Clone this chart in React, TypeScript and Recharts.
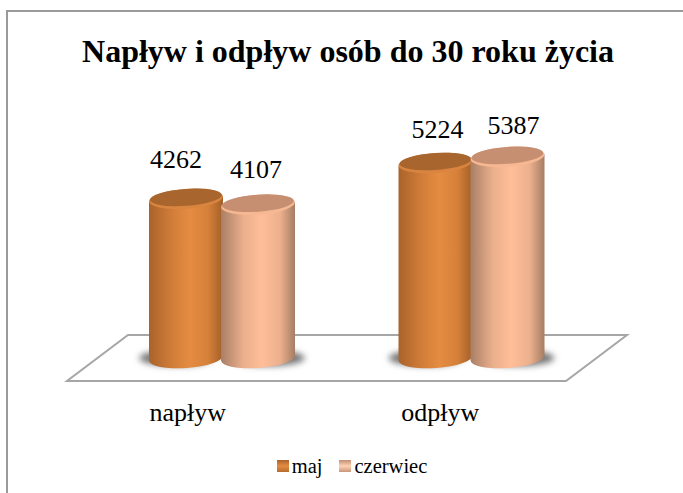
import { Bar, BarChart, LabelList, Legend, XAxis, YAxis } from "recharts";

const categories = ["napływ", "odpływ"];
const maj = [4262, 5224];
const czerwiec = [4107, 5387];

const title = "Napływ i odpływ osób do 30 roku życia";
const font = "'Liberation Serif', 'Times New Roman', serif";

// hand-placed labels in the original, so they sit off-centre
const majNudge = [
  { dx: -10, dy: -6 },
  { dx: 2, dy: 0 },
];
const czerwiecNudge = [
  { dx: -2, dy: -2 },
  { dx: 6, dy: 2 },
];
const tickNudge = [-34, -31];

const chartData = categories.map((name, i) => ({
  name,
  maj: maj[i],
  czerwiec: czerwiec[i],
}));

const RY = 10;
const TILT = -4;

function Cylinder(props: any) {
  const { x, y, width, height, gradient, topFill, rimFill, shadowShift } = props;
  const cx = x + width / 2;
  const rx = width / 2;
  const base = y + height;
  const lift = rx * Math.sin((-TILT * Math.PI) / 180);
  const tilt = `rotate(${TILT} ${cx} ${y})`;
  return (
    <g>
      <ellipse
        cx={cx + shadowShift}
        cy={base}
        rx={rx}
        ry={8}
        fill="#777"
        filter="url(#softShadow)"
      />
      <path
        d={`M${x},${y + lift} L${x},${base + lift} A${rx},${RY} ${TILT} 0 0 ${x + width},${base - lift} L${x + width},${y - lift} Z`}
        fill={`url(#${gradient})`}
      />
      <ellipse cx={cx} cy={y} rx={rx} ry={RY} fill={rimFill} transform={tilt} />
      <ellipse cx={cx} cy={y - 1.5} rx={rx - 1} ry={RY - 1.5} fill={topFill} transform={tilt} />
    </g>
  );
}

function nudgedLabel(nudge: { dx: number; dy: number }[]) {
  return function NudgedLabel(props: any) {
    const { x, y, width, value, index } = props;
    return (
      <text
        x={x + width / 2 + nudge[index].dx}
        y={y - 25 + nudge[index].dy}
        textAnchor="middle"
        fontFamily={font}
        fontSize={26}
        fill="#000"
      >
        {value}
      </text>
    );
  };
}

function CategoryTick(props: any) {
  const { x, y, payload, index } = props;
  return (
    <text x={x + tickNudge[index]} y={y} textAnchor="middle" fontFamily={font} fontSize={26} fill="#000">
      {payload.value}
    </text>
  );
}

function LegendSwatches() {
  const items = [
    { label: "maj", fill: "url(#swatchMaj)" },
    { label: "czerwiec", fill: "url(#swatchCzerwiec)" },
  ];
  return (
    <div style={{ display: "flex", justifyContent: "center", gap: 17, fontFamily: font, fontSize: 20.5, lineHeight: "24px", color: "#000" }}>
      {items.map((item) => (
        <span key={item.label} style={{ display: "flex", alignItems: "center" }}>
          <svg width={12} height={12} style={{ marginRight: 3 }}>
            <rect x={0} y={0} width={12} height={12} fill={item.fill} />
          </svg>
          {item.label}
        </span>
      ))}
    </div>
  );
}

export default function App() {
  return (
    <div style={{ position: "absolute", left: 0, top: 0, width: 683, height: 493, overflow: "hidden", background: "#fff" }}>
      <div
        style={{
          position: "absolute",
          left: 6,
          top: 10,
          width: 700,
          height: 500,
          border: "2px solid #9a9a9a",
          boxSizing: "border-box",
        }}
      />
      <div
        style={{
          position: "absolute",
          left: 0,
          top: 32,
          width: 696,
          textAlign: "center",
          fontFamily: font,
          fontWeight: 700,
          fontSize: 32,
          lineHeight: "38px",
          color: "#000",
          whiteSpace: "nowrap",
        }}
      >
        {title}
      </div>
      <BarChart
        width={683}
        height={493}
        data={chartData}
        margin={{ top: 134, right: 87, bottom: 61, left: 97 }}
        barSize={74}
        barGap={-2}
        style={{ position: "absolute", left: 0, top: 0 }}
      >
        <defs>
          <linearGradient id="bodyMaj" x1="0" y1="0" x2="1" y2="0">
            <stop offset="0" stopColor="#a9632a" />
            <stop offset="0.3" stopColor="#d07c38" />
            <stop offset="0.55" stopColor="#e58c42" />
            <stop offset="0.8" stopColor="#d58039" />
            <stop offset="1" stopColor="#a35f28" />
          </linearGradient>
          <linearGradient id="bodyCzerwiec" x1="0" y1="0" x2="1" y2="0">
            <stop offset="0" stopColor="#a97f66" />
            <stop offset="0.3" stopColor="#eaaf8c" />
            <stop offset="0.55" stopColor="#ffbe98" />
            <stop offset="0.8" stopColor="#ecb08e" />
            <stop offset="1" stopColor="#a57d64" />
          </linearGradient>
          <linearGradient id="swatchMaj" x1="0" y1="0" x2="0" y2="1">
            <stop offset="0" stopColor="#a9632a" />
            <stop offset="0.5" stopColor="#e58c42" />
            <stop offset="1" stopColor="#b56c2e" />
          </linearGradient>
          <linearGradient id="swatchCzerwiec" x1="0" y1="0" x2="0" y2="1">
            <stop offset="0" stopColor="#c08f74" />
            <stop offset="0.5" stopColor="#ffd2b5" />
            <stop offset="1" stopColor="#c9977a" />
          </linearGradient>
          <filter id="softShadow" x="-30%" y="-60%" width="160%" height="220%">
            <feGaussianBlur stdDeviation="3" />
          </filter>
        </defs>
        <polygon
          points="128,335 627,335 566,381 67,381"
          fill="#fff"
          stroke="#a6a6a6"
          strokeWidth={2}
        />
        <XAxis
          dataKey="name"
          axisLine={false}
          tickLine={false}
          height={50}
          tick={<CategoryTick />}
          tickMargin={57}
        />
        <YAxis hide domain={[0, 6000]} />
        <Legend
          content={<LegendSwatches />}
          verticalAlign="bottom"
          wrapperStyle={{ left: 0, width: 704, bottom: 15 }}
        />
        <Bar
          dataKey="maj"
          isAnimationActive={false}
          shape={(p: any) => (
            <Cylinder {...p} gradient="bodyMaj" topFill="#a8652d" rimFill="#d98540" shadowShift={-10} />
          )}
        >
          <LabelList dataKey="maj" content={nudgedLabel(majNudge)} />
        </Bar>
        <Bar
          dataKey="czerwiec"
          isAnimationActive={false}
          shape={(p: any) => (
            <Cylinder {...p} gradient="bodyCzerwiec" topFill="#c68f72" rimFill="#f6b892" shadowShift={10} />
          )}
        >
          <LabelList dataKey="czerwiec" content={nudgedLabel(czerwiecNudge)} />
        </Bar>
      </BarChart>
    </div>
  );
}
